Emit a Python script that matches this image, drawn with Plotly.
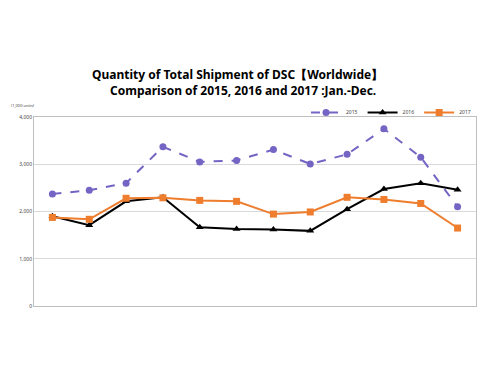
import plotly.graph_objects as go

months = ["Jan", "Feb", "Mar", "Apr", "May", "Jun", "Jul", "Aug", "Sep", "Oct", "Nov", "Dec"]
y2015 = [2370, 2450, 2600, 3370, 3050, 3080, 3310, 3005, 3210, 3750, 3150, 2100]
y2016 = [1900, 1710, 2215, 2300, 1665, 1630, 1620, 1590, 2050, 2475, 2600, 2460]
y2017 = [1875, 1835, 2280, 2290, 2235, 2215, 1945, 1990, 2300, 2255, 2170, 1650]
tick_vals = [0, 1000, 2000, 3000, 4000]
tick_text = ["0", "1,000", "2,000", "3,000", "4,000"]

W, H = 500, 375
L, R, T, B = 34, 24, 117, 69

def py(ypix):
    return (H - B - ypix) / (H - T - B)

def px(xpix):
    return (xpix - L) / (W - L - R)

fig = go.Figure()
fig.add_trace(go.Scatter(x=months, y=y2015, name="2015", mode="lines+markers",
                         line=dict(color="#7464C4", width=2, dash="dash"),
                         marker=dict(symbol="circle", size=7, color="#7464C4")))
fig.add_trace(go.Scatter(x=months, y=y2016, name="2016", mode="lines+markers",
                         line=dict(color="#000000", width=2),
                         marker=dict(symbol="triangle-up", size=7, color="#000000")))
fig.add_trace(go.Scatter(x=months, y=y2017, name="2017", mode="lines+markers",
                         line=dict(color="#EE7D2E", width=2),
                         marker=dict(symbol="square", size=7, color="#EE7D2E")))

fig.update_layout(
    width=W, height=H,
    margin=dict(l=L, r=R, t=T, b=B, autoexpand=False),
    paper_bgcolor="white", plot_bgcolor="white",
    font=dict(family="Noto Sans, Arial, sans-serif", color="#333"),
    showlegend=True,
    legend=dict(orientation="h", x=1.0, xanchor="right", y=py(98), yanchor="top",
                font=dict(size=5, color="#444"), itemwidth=30,
                bgcolor="rgba(0,0,0,0)", tracegroupgap=0),
    xaxis=dict(type="category", range=[-0.5, 11.5], showticklabels=False, ticks="",
               showgrid=False, showline=True, linecolor="#BFBFBF", linewidth=1, mirror=True,
               zeroline=False, fixedrange=True),
    yaxis=dict(range=[0, 4000], tickvals=tick_vals, ticktext=tick_text,
               tickfont=dict(size=5, color="#444"), showgrid=True, gridcolor="#D9D9D9",
               gridwidth=1, showline=True, linecolor="#BFBFBF", linewidth=1, mirror=True,
               zeroline=False, ticks="", ticklen=0, fixedrange=True),
    annotations=[
        dict(text="<b>Quantity of Total Shipment of DSC【Worldwide】</b>",
             xref="paper", yref="paper", x=px(237), y=py(75),
             xanchor="center", yanchor="middle", showarrow=False,
             font=dict(size=12, color="#000")),
        dict(text="<b>Comparison of 2015, 2016 and 2017 :Jan.-Dec.</b>",
             xref="paper", yref="paper", x=px(243), y=py(91),
             xanchor="center", yanchor="middle", showarrow=False,
             font=dict(size=12, color="#000")),
        dict(text="(1,000 units)", xref="paper", yref="paper",
             x=px(9), y=py(105),
             xanchor="left", yanchor="middle", showarrow=False,
             font=dict(size=4, color="#444")),
    ],
)

fig.write_html("out.html", config={"displayModeBar": False},
               post_script="document.body.style.margin='0';")
